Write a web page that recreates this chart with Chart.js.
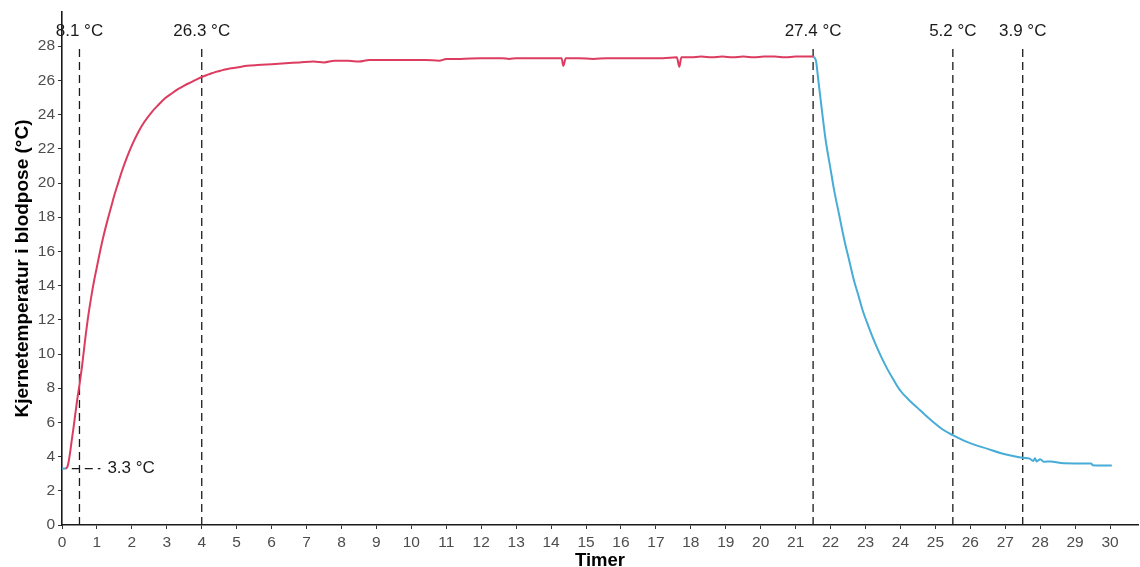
<!DOCTYPE html>
<html>
<head>
<meta charset="utf-8">
<script src="https://cdn.jsdelivr.net/npm/chart.js@4"></script>
<style>
  body { margin: 0; background: #fff; }
  #wrap { width: 1140px; height: 567px; }
</style>
</head>
<body>
<div id="wrap"><canvas id="chart"></canvas></div>
<script>
// oppvarming (rød) og nedkjøling (blå), timer og °C
const preX = [0, 0.1];
const preT = [3.3, 3.3];

const redX = [0.09, 0.14, 0.18, 0.23, 0.28, 0.35, 0.42, 0.5, 0.58, 0.66, 0.75, 0.85, 0.92, 1.0,
  1.1, 1.2, 1.3, 1.4, 1.5, 1.6, 1.7, 1.85, 2.0, 2.19, 2.35, 2.57, 2.75, 2.95, 3.15, 3.33,
  3.5, 3.7, 3.85, 4.0, 4.2, 4.4, 4.6, 4.8, 5.0, 5.3, 5.6, 6.0, 6.4, 6.8, 7.2, 7.5, 7.8, 8.2,
  8.5, 8.8, 9.2, 9.6, 10.0, 10.4, 10.8, 11.0, 11.4, 12.0, 12.6, 12.8, 13.0, 13.6, 14.0, 14.3,
  14.35, 14.42, 14.8, 15.2, 15.6, 16.0, 16.4, 16.8, 17.2, 17.6, 17.67, 17.73, 18.0, 18.3,
  18.6, 18.9, 19.2, 19.5, 19.8, 20.1, 20.4, 20.7, 21.0, 21.3, 21.5];
const redT = [3.3, 3.35, 3.6, 4.2, 4.97, 6.0, 7.1, 8.2, 9.4, 10.8, 12.2, 13.5, 14.3, 15.1,
  16.1, 17.0, 17.8, 18.55, 19.3, 19.95, 20.6, 21.45, 22.2, 23.0, 23.55, 24.15, 24.55, 24.95, 25.25, 25.5,
  25.7, 25.9, 26.05, 26.2, 26.35, 26.5, 26.6, 26.7, 26.75, 26.85, 26.9, 26.95, 27.0, 27.05, 27.1, 27.05, 27.15, 27.15,
  27.1, 27.2, 27.2, 27.2, 27.2, 27.2, 27.15, 27.25, 27.25, 27.3, 27.3, 27.25, 27.3, 27.3, 27.3, 27.3,
  26.85, 27.3, 27.3, 27.25, 27.3, 27.3, 27.3, 27.3, 27.3, 27.35, 26.8, 27.35, 27.35, 27.4,
  27.35, 27.4, 27.35, 27.4, 27.35, 27.4, 27.4, 27.35, 27.4, 27.4, 27.4];

const blueX = [21.5, 21.58, 21.65, 21.72, 21.79, 21.86, 22.0, 22.1, 22.25, 22.39, 22.53, 22.67,
  22.8, 22.91, 23.05, 23.2, 23.4, 23.63, 23.8, 24.0, 24.25, 24.49, 24.7, 24.97, 25.2, 25.5,
  25.8, 26.11, 26.5, 26.88, 27.2, 27.5, 27.7, 27.8, 27.85, 27.9, 28.0, 28.1, 28.3, 28.6,
  29.0, 29.46, 29.5, 30.05];
const blueT = [27.4, 27.17, 26.0, 24.8, 23.6, 22.5, 20.8, 19.6, 18.1, 16.7, 15.5, 14.3,
  13.4, 12.6, 11.8, 11.0, 10.05, 9.1, 8.5, 7.85, 7.3, 6.85, 6.45, 5.97, 5.6, 5.25,
  4.95, 4.7, 4.45, 4.2, 4.05, 3.93, 3.88, 3.75, 3.9, 3.72, 3.85, 3.7, 3.72, 3.62,
  3.6, 3.6, 3.5, 3.48];

// markerte tidspunkt
const markX = [0.5, 4, 21.5, 25.5, 27.5];
const markLabels = ['8.1 °C', '26.3 °C', '27.4 °C', '5.2 °C', '3.9 °C'];
const startT = 3.3;
const startLabel = '3.3 °C';

const xTicks = Array.from({ length: 31 }, (_, i) => i);
const yTicks = [0, 2, 4, 6, 8, 10, 12, 14, 16, 18, 20, 22, 24, 26, 28];

const pts = (xs, ys) => xs.map((x, i) => ({ x: x, y: ys[i] }));

const dashed = (data) => ({
  data: data, borderColor: '#1a1a1a', borderWidth: 1.3, borderDash: [8, 5],
  pointRadius: 0, tension: 0
});

const datasets = [
  { data: pts(preX, preT), borderColor: '#47acd6', borderWidth: 2, pointRadius: 0 },
  { data: pts(redX, redT), borderColor: '#dc3c60', borderWidth: 2, pointRadius: 0, cubicInterpolationMode: 'monotone' },
  { data: pts(blueX, blueT), borderColor: '#47acd6', borderWidth: 2, pointRadius: 0, cubicInterpolationMode: 'monotone' }
];
markX.forEach(x => datasets.push(dashed([{ x: x, y: 0 }, { x: x, y: 28 }])));
datasets.push(dashed([{ x: 0.28, y: startT }, { x: 1.1, y: startT }]));

const labelPlugin = {
  id: 'labels',
  afterDatasetsDraw(chart) {
    const { ctx, scales: { x, y } } = chart;
    ctx.save();
    ctx.font = '17px "Liberation Sans", Arial, sans-serif';
    ctx.fillStyle = '#1a1a1a';
    ctx.textBaseline = 'middle';
    ctx.textAlign = 'center';
    markX.forEach((v, i) => {
      ctx.fillText(markLabels[i], x.getPixelForValue(v), y.getPixelForValue(28.85));
    });
    ctx.textAlign = 'left';
    ctx.fillText(startLabel, x.getPixelForValue(1.3), y.getPixelForValue(startT));
    ctx.restore();
  }
};

const tickFont = { family: '"Liberation Sans", Arial, sans-serif', size: 15.5, lineHeight: 1 };
const xTitleFont = { family: '"Liberation Sans", Arial, sans-serif', size: 18.5, weight: 'bold', lineHeight: 1 };
const yTitleFont = { family: '"Liberation Sans", Arial, sans-serif', size: 19, weight: 'bold', lineHeight: 1 };

new Chart(document.getElementById('chart'), {
  type: 'line',
  data: { datasets: datasets },
  options: {
    responsive: true,
    maintainAspectRatio: false,
    animation: false,
    layout: { padding: { left: 0, right: 2, top: 12, bottom: 0 } },
    plugins: { legend: { display: false }, tooltip: { enabled: false } },
    scales: {
      x: {
        type: 'linear', min: 0, max: 30.8,
        afterBuildTicks: s => { s.ticks = xTicks.map(v => ({ value: v })); },
        afterFit: s => { s.height = 42; },
        ticks: { font: tickFont, color: '#4d4d4d', padding: 6, maxRotation: 0, autoSkip: false },
        grid: { drawOnChartArea: false, drawTicks: true, tickLength: 4, color: '#333' },
        border: { color: '#1a1a1a', width: 1.6 },
        title: { display: true, text: 'Timer', font: xTitleFont, color: '#000', padding: { top: 0, bottom: -3 } }
      },
      y: {
        min: 0, max: 30,
        afterBuildTicks: s => { s.ticks = yTicks.map(v => ({ value: v })); },
        afterFit: s => { s.width = 62; },
        ticks: { font: tickFont, color: '#4d4d4d', padding: 3 },
        grid: { drawOnChartArea: false, drawTicks: true, tickLength: 4, color: '#333' },
        border: { color: '#1a1a1a', width: 1.6 },
        title: { display: true, text: 'Kjernetemperatur i blodpose (°C)', font: yTitleFont, color: '#000', padding: { top: 13, bottom: 0 } }
      }
    }
  },
  plugins: [labelPlugin]
});
</script>
</body>
</html>
